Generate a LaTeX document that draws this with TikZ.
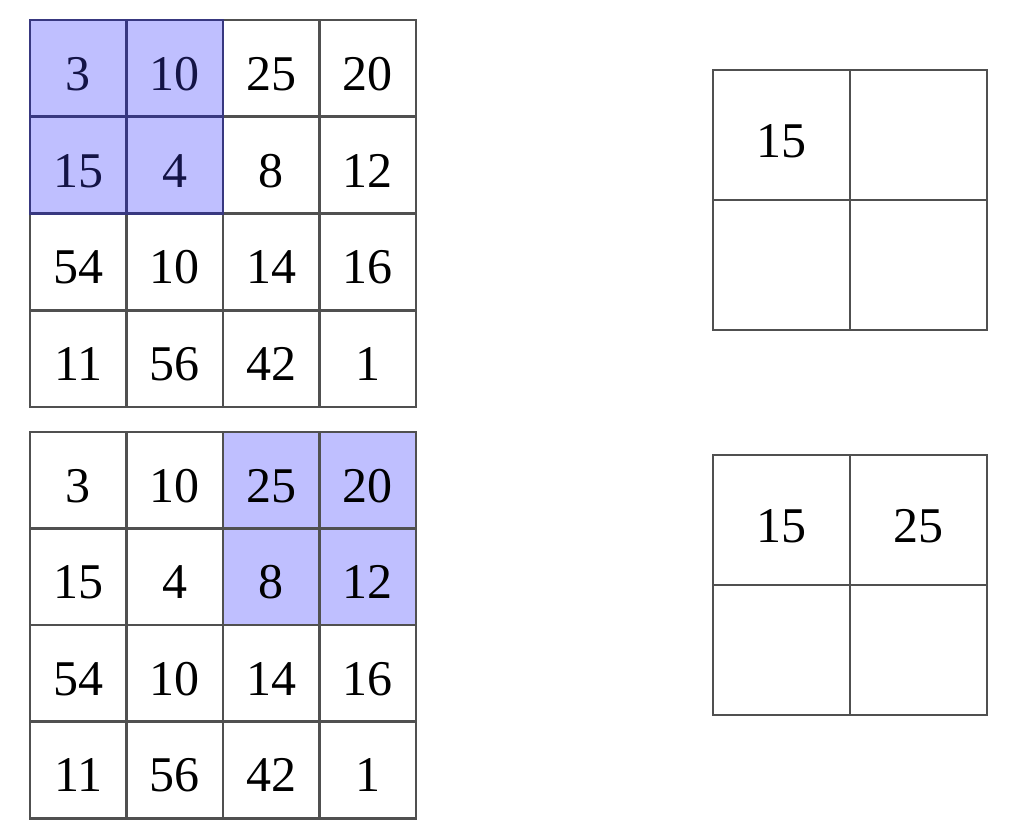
\documentclass[tikz,border=0pt]{standalone}
\usepackage{fontspec}
\setmainfont{Liberation Serif}
\usetikzlibrary{positioning}
\definecolor{CellClr}{RGB}{191,191,255}
\definecolor{PoolClr}{RGB}{56,56,128}
\definecolor{PoolTxt}{RGB}{20,20,70}
\definecolor{GridClr}{RGB}{80,80,80}

\begin{document}
\begin{tikzpicture}[x=1pt,y=-1pt,
  cell/.style={draw=GridClr,line width=2.75pt,inner sep=0pt,outer sep=0pt,
    minimum width=96.5pt,minimum height=96.75pt,text height=44pt,text depth=0pt,
    font=\fontsize{50}{52}\selectfont},
  outcell/.style={cell,minimum width=137pt,minimum height=130pt}]
\useasboundingbox (0,0) rectangle (1017,835);

% first window
\foreach \r/\row in {1/{3,10,25,20},2/{15,4,8,12},3/{54,10,14,16},4/{11,56,42,1}}{
  \foreach \v [count=\c] in \row {
    \pgfmathtruncatemacro\hi{and(\r<3,\c<3)}
    \ifnum\hi=1 \def\fc{CellClr}\def\dc{PoolClr}\def\tc{PoolTxt}\else\def\fc{white}\def\dc{GridClr}\def\tc{black}\fi
    \node[cell,fill=\fc,draw=\dc,text=\tc] (a\r\c) at ({30+96.5*(\c-0.5)},{20+96.75*(\r-0.5)}) {\v};
  }}
\draw[PoolClr,line width=2.75pt] (a11.north west) rectangle (a22.south east);

% second window
\foreach \r/\row in {1/{3,10,25,20},2/{15,4,8,12},3/{54,10,14,16},4/{11,56,42,1}}{
  \foreach \v [count=\c] in \row {
    \pgfmathtruncatemacro\hi{and(\r<3,\c>2)}
    \ifnum\hi=1 \def\fc{CellClr}\else\def\fc{white}\fi
    \node[cell,fill=\fc] (b\r\c) at ({30+96.5*(\c-0.5)},{432+96.5*(\r-0.5)}) {\v};
  }}

% pooled outputs
\node[outcell] (p11) at (781.5,135) {15};
\node[outcell,right=0pt of p11] (p12) {};
\node[outcell,below=0pt of p11] (p21) {};
\node[outcell,right=0pt of p21] (p22) {};

\node[outcell] (q11) at (781.5,520) {15};
\node[outcell,right=0pt of q11] (q12) {25};
\node[outcell,below=0pt of q11] (q21) {};
\node[outcell,right=0pt of q21] (q22) {};

\end{tikzpicture}
\end{document}
